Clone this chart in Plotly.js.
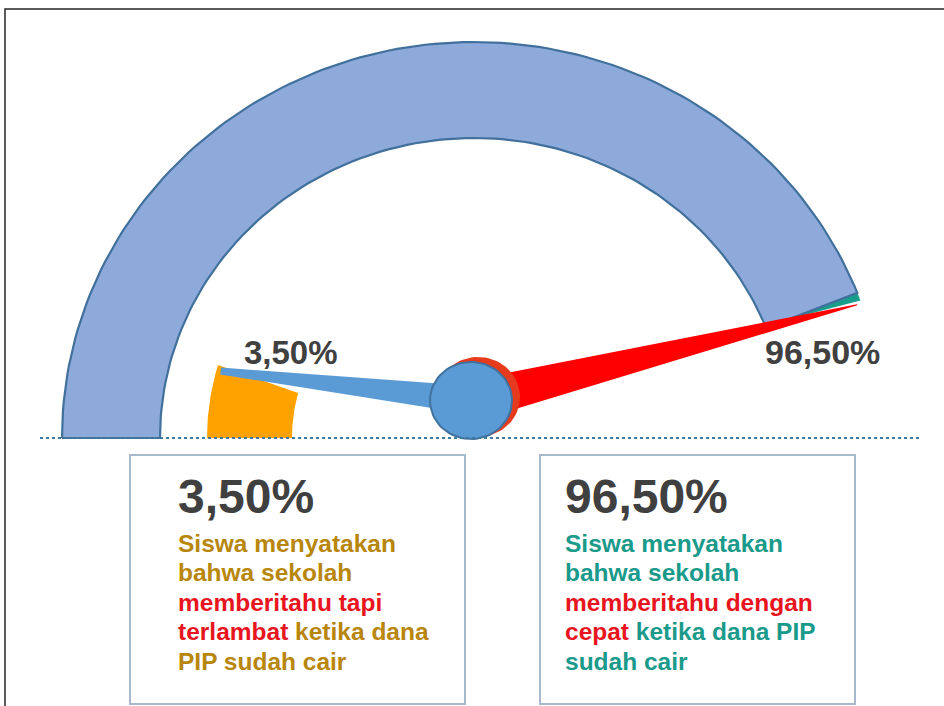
<!DOCTYPE html>
<html>
<head>
<meta charset="utf-8">
<script src="https://cdn.plot.ly/plotly-3.0.1.min.js"></script>
<style>html,body{margin:0;padding:0;background:#fff;}#chart{width:944px;height:706px;}</style>
</head>
<body>
<div id="chart"></div>
<script>
// ---------- DATA ----------
const categories = ['Terlambat', 'Cepat'];
const values = [3.5, 96.5];
const valueLabels = values.map(v => v.toFixed(2).replace('.', ',') + '%');
// description lines: [text, colourKey]
const descLeft = [
  [['Siswa menyatakan', 'gold']],
  [['bahwa sekolah', 'gold']],
  [['memberitahu tapi', 'red']],
  [['terlambat', 'red'], [' ketika dana', 'gold']],
  [['PIP sudah cair', 'gold']]
];
const descRight = [
  [['Siswa menyatakan', 'teal']],
  [['bahwa sekolah', 'teal']],
  [['memberitahu dengan', 'red']],
  [['cepat', 'red'], [' ketika dana PIP', 'teal']],
  [['sudah cair', 'teal']]
];

// ---------- STYLE / GEOMETRY ----------
const C = {
  arc: '#8eaadb', arcLine: '#41709c', orange: '#ffa200', teal: '#1a9e8c',
  needleBlue: '#5b9bd5', hubLine: '#41719c', needleRed: '#ff0000', redRing: '#e63a1c',
  text: '#404040', gold: '#b8860b', red: '#e8141e', tealText: '#1a9a8a',
  box: '#a9b9cc', dots: '#3d7aa0', frame: '#262626'
};
const G = { cx: 474, cy: 438 };
const FONT = 'Liberation Sans, Arial, sans-serif';

function pt(rx, ry, tDeg) {
  const t = tDeg * Math.PI / 180;
  return [G.cx + rx * Math.cos(t), G.cy - ry * Math.sin(t)];
}
function band(o, i, n) {
  const xs = [], ys = [];
  for (let k = 0; k <= n; k++) {
    const p = pt(o.rx, o.ry, o.t0 + (o.t1 - o.t0) * k / n);
    xs.push(p[0]); ys.push(p[1]);
  }
  for (let k = n; k >= 0; k--) {
    const p = pt(i.rx, i.ry, i.t0 + (i.t1 - i.t0) * k / n);
    xs.push(p[0]); ys.push(p[1]);
  }
  xs.push(xs[0]); ys.push(ys[0]);
  return { x: xs, y: ys };
}
function needle(px, py, aDeg, L, hb, ht) {
  const a = aDeg * Math.PI / 180;
  const ux = Math.cos(a), uy = -Math.sin(a);
  const nx = Math.sin(a), ny = Math.cos(a);
  const tx = px + ux * L, ty = py + uy * L;
  return {
    x: [px + nx * hb, tx + nx * ht, tx - nx * ht, px - nx * hb, px + nx * hb],
    y: [py + ny * hb, ty + ny * ht, ty - ny * ht, py - ny * hb, py + ny * hb]
  };
}
function ellipse(cx, cy, rx, ry, n) {
  const xs = [], ys = [];
  for (let k = 0; k <= n; k++) {
    const t = 2 * Math.PI * k / n;
    xs.push(cx + rx * Math.cos(t)); ys.push(cy + ry * Math.sin(t));
  }
  return { x: xs, y: ys };
}
function poly(g, fill, line, lw) {
  return { type: 'scatter', mode: 'lines', x: g.x, y: g.y, fill: 'toself', fillcolor: fill,
    line: { color: line || fill, width: lw === undefined ? 0 : lw }, hoverinfo: 'skip', showlegend: false };
}

const arcEnd = 21.5;
const tealG = (function () {
  const a = pt(412, 396, arcEnd), b = pt(412, 396, 20.3), c = pt(340, 327, 21.4);
  return { x: [a[0], b[0], c[0], a[0]], y: [a[1], b[1], c[1], a[1]] };
})();

const traces = [
  poly(tealG, C.teal),
  poly(band({ rx: 412, ry: 396, t0: 180, t1: arcEnd }, { rx: 314, ry: 300, t0: 180, t1: arcEnd }, 120), C.arc, C.arcLine, 2.2),
  poly(band({ rx: 267, ry: 257, t0: 180, t1: 163.5 }, { rx: 182, ry: 175, t0: 180, t1: 165.1 }, 30), C.orange),
  poly(needle(471, 400, 173.4, 252, 14, 3.5), C.needleBlue),
  poly(needle(471, 401, 14.0, 398, 20.5, 0.6), C.needleRed),
  poly(ellipse(478, 397, 42, 40, 80), C.redRing),
  poly(ellipse(471, 400.5, 41, 38.5, 80), C.needleBlue, C.hubLine, 2)
];

// ---------- TEXT ----------
const colourMap = { gold: C.gold, red: C.red, teal: C.tealText };
function lineText(segs) {
  return segs.map(s => '<span style="color:' + colourMap[s[1]] + '">' + s[0] + '</span>').join('');
}
const annotations = [];
function addText(x, y, text, size, color, xanchor) {
  annotations.push({ x: x, y: y, xref: 'x', yref: 'y', text: '<b>' + text + '</b>', showarrow: false,
    xanchor: xanchor, yanchor: 'middle', font: { family: FONT, size: size, color: color } });
}
// labels on the gauge
addText(291, 352, valueLabels[0], 33, C.text, 'center');
addText(822, 352, valueLabels[1], 34, C.text, 'center');
// box numbers
addText(176, 496, valueLabels[0], 48, C.text, 'left');
addText(563, 496, valueLabels[1], 48, C.text, 'left');
const descFs = 24.5;
descLeft.forEach((segs, i) => addText(176, 552 + 29.5 * i - 0.35 * descFs, lineText(segs), descFs, C.gold, 'left'));
descRight.forEach((segs, i) => addText(563, 552 + 29.5 * i - 0.35 * descFs, lineText(segs), descFs, C.tealText, 'left'));

const shapes = [
  { type: 'rect', xref: 'x', yref: 'y', x0: 5, y0: 9, x1: 970, y1: 730, line: { color: C.frame, width: 1.5 } },
  { type: 'line', xref: 'x', yref: 'y', x0: 40, y0: 438, x1: 922, y1: 438, line: { color: C.dots, width: 2, dash: 'dot' } },
  { type: 'rect', xref: 'x', yref: 'y', x0: 130, y0: 455, x1: 465, y1: 704, line: { color: C.box, width: 2 } },
  { type: 'rect', xref: 'x', yref: 'y', x0: 540, y0: 455, x1: 855, y1: 704, line: { color: C.box, width: 2 } }
];

const layout = {
  width: 944, height: 706, margin: { l: 0, r: 0, t: 0, b: 0, pad: 0 },
  paper_bgcolor: '#ffffff', plot_bgcolor: '#ffffff', showlegend: false,
  xaxis: { range: [0, 944], visible: false, fixedrange: true },
  yaxis: { range: [706, 0], visible: false, fixedrange: true },
  shapes: shapes, annotations: annotations
};
Plotly.newPlot('chart', traces, layout, { displayModeBar: false, staticPlot: true });
</script>
</body>
</html>
